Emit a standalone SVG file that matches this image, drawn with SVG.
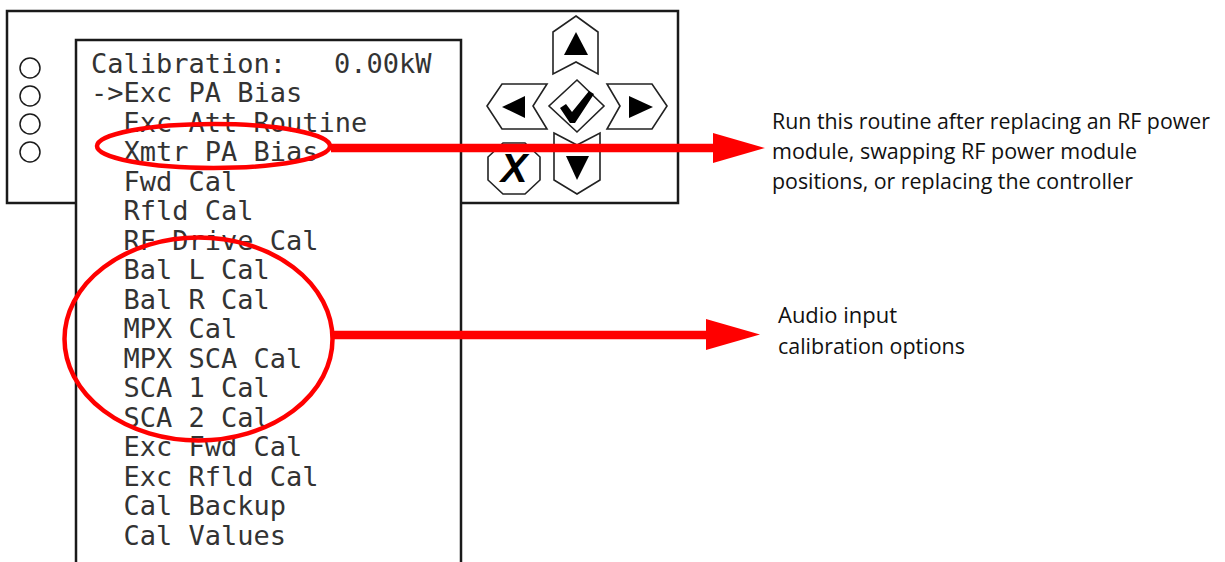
<svg xmlns="http://www.w3.org/2000/svg" width="1225" height="562" viewBox="0 0 1225 562">
<style>
.panel{fill:#fff;stroke:#1a1a1a;stroke-width:2.5}
.led{fill:#fff;stroke:#1a1a1a;stroke-width:1.5}
.btn{fill:#fff;stroke:#222;stroke-width:1.6;stroke-linejoin:miter}
.glyph{fill:#000}
.lcd{font-family:"DejaVu Sans Mono","Liberation Mono",monospace;font-size:27px;fill:#333}
.note{font-family:"Open Sans","Noto Sans",sans-serif;font-size:21px;fill:#111}
.hl{fill:none;stroke:#f00;stroke-width:4.5}
.conn{stroke:#f00;stroke-width:8.5;fill:none}
.head{fill:#f00}
</style>
<rect width="1225" height="562" fill="#fff"/>
<g id="front-panel">
<rect class="panel" x="7" y="11" width="671" height="192"/>
<circle class="led" cx="30" cy="68" r="10"/>
<circle class="led" cx="30" cy="96" r="10"/>
<circle class="led" cx="30" cy="124" r="10"/>
<circle class="led" cx="30" cy="152" r="10"/>
</g>
<g id="keypad">
<polygon class="btn" points="576,16 598,32 598,74 576,62 553,74 553,32"/>
<polygon class="glyph" points="576,32 588,55 564,55"/>
<polygon class="btn" points="487,106 502,84 547,84 533,106 547,129 502,129"/>
<polygon class="glyph" points="502,107 525,96 525,118"/>
<polygon class="btn" points="667,106 652,84 607,84 620,106 607,129 652,129"/>
<polygon class="glyph" points="653,107 629,96 629,118"/>
<polygon class="btn" points="577,80 604,106 577,132 549,106"/>
<polygon class="glyph" points="560,108 566,104 572,112 589,91 594,94 575,123 570,123"/>
<polygon class="btn" points="554,133 577,145 600,133 600,180 577,194 554,180"/>
<polygon class="glyph" points="566,156 589,156 577,180"/>
<polygon class="btn" points="503,143 525,143 540,157 540,180 525,194 503,194 488,180 488,157"/>
<text x="514" y="182" text-anchor="middle" style="font-family:'Liberation Sans',Arial,sans-serif;font-size:40px;font-weight:bold;font-style:italic;fill:#000">X</text>
</g>
<g id="lcd-screen">
<rect class="panel" x="76" y="40" width="385" height="540"/>
<text class="lcd" x="91" y="72.5">Calibration:</text>
<text class="lcd" x="334" y="72.5">0.00kW</text>
<text class="lcd" x="91" y="102">-&gt;Exc PA Bias</text>
<text class="lcd" x="123.5" y="131.5">Exc Att Routine</text>
<text class="lcd" x="123.5" y="161">Xmtr PA Bias</text>
<text class="lcd" x="123.5" y="190.5">Fwd Cal</text>
<text class="lcd" x="123.5" y="220">Rfld Cal</text>
<text class="lcd" x="123.5" y="249.5">RF Drive Cal</text>
<text class="lcd" x="123.5" y="279">Bal L Cal</text>
<text class="lcd" x="123.5" y="308.5">Bal R Cal</text>
<text class="lcd" x="123.5" y="338">MPX Cal</text>
<text class="lcd" x="123.5" y="367.5">MPX SCA Cal</text>
<text class="lcd" x="123.5" y="397">SCA 1 Cal</text>
<text class="lcd" x="123.5" y="426.5">SCA 2 Cal</text>
<text class="lcd" x="123.5" y="456">Exc Fwd Cal</text>
<text class="lcd" x="123.5" y="485.5">Exc Rfld Cal</text>
<text class="lcd" x="123.5" y="515">Cal Backup</text>
<text class="lcd" x="123.5" y="544.5">Cal Values</text>
</g>
<g id="highlight-xmtr">
<ellipse class="hl" cx="213.5" cy="146" rx="116.5" ry="22"/>
</g>
<g id="highlight-audio">
<ellipse class="hl" cx="198.5" cy="339" rx="134" ry="101.5"/>
</g>
<g id="connectors">
<line class="conn" x1="331" y1="148" x2="716" y2="148"/>
<polygon class="head" points="713,133 765,148 713,163"/>
<line class="conn" x1="332" y1="335" x2="709" y2="335"/>
<polygon class="head" points="706,319 760,334.5 706,350"/>
</g>
<g id="note-xmtr">
<text class="note" x="772" y="129" textLength="438" lengthAdjust="spacingAndGlyphs">Run this routine after replacing an RF power</text>
<text class="note" x="772" y="159" textLength="365" lengthAdjust="spacingAndGlyphs">module, swapping RF power module</text>
<text class="note" x="772" y="189" textLength="361" lengthAdjust="spacingAndGlyphs">positions, or replacing the controller</text>
</g>
<g id="note-audio">
<text class="note" x="778" y="323" textLength="119" lengthAdjust="spacingAndGlyphs">Audio input</text>
<text class="note" x="778" y="354" textLength="187" lengthAdjust="spacingAndGlyphs">calibration options</text>
</g>
</svg>
